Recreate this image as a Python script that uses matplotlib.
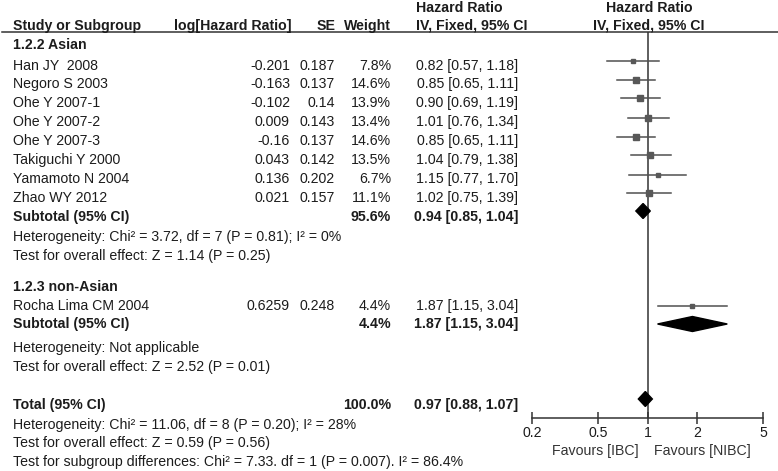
import matplotlib.pyplot as plt
from matplotlib.patches import Polygon
import numpy as np

plt.rcParams['font.family'] = ['Liberation Sans', 'DejaVu Sans']
plt.rcParams['font.size'] = 10.2

# --- data ---
studies = ['Han JY  2008', 'Negoro S 2003', 'Ohe Y 2007-1', 'Ohe Y 2007-2', 'Ohe Y 2007-3',
           'Takiguchi Y 2000', 'Yamamoto N 2004', 'Zhao WY 2012', 'Rocha Lima CM 2004']
log_hr = [-0.201, -0.163, -0.102, 0.009, -0.16, 0.043, 0.136, 0.021, 0.6259]
se = [0.187, 0.137, 0.14, 0.143, 0.137, 0.142, 0.202, 0.157, 0.248]
weight = [7.8, 14.6, 13.9, 13.4, 14.6, 13.5, 6.7, 11.1, 4.4]
hr = [0.82, 0.85, 0.90, 1.01, 0.85, 1.04, 1.15, 1.02, 1.87]
lo = [0.57, 0.65, 0.69, 0.76, 0.65, 0.79, 0.77, 0.75, 1.15]
hi = [1.18, 1.11, 1.19, 1.34, 1.11, 1.38, 1.70, 1.39, 3.04]

pooled_labels = ['Subtotal (95% CI)', 'Subtotal (95% CI)', 'Total (95% CI)']
pooled_weight = [95.6, 4.4, 100.0]
pooled_hr = [0.94, 1.87, 0.97]
pooled_lo = [0.85, 1.15, 0.88]
pooled_hi = [1.04, 3.04, 1.07]

group_titles = ['1.2.2 Asian', '1.2.3 non-Asian']
stats_lines = [
    ['Heterogeneity: Chi\u00b2 = 3.72, df = 7 (P = 0.81); I\u00b2 = 0%',
     'Test for overall effect: Z = 1.14 (P = 0.25)'],
    ['Heterogeneity: Not applicable',
     'Test for overall effect: Z = 2.52 (P = 0.01)'],
    ['Heterogeneity: Chi\u00b2 = 11.06, df = 8 (P = 0.20); I\u00b2 = 28%',
     'Test for overall effect: Z = 0.59 (P = 0.56)',
     'Test for subgroup differences: Chi\u00b2 = 7.33. df = 1 (P = 0.007). I\u00b2 = 86.4%'],
]
ticks = [0.2, 0.5, 1, 2, 5]
favours = ['Favours [IBC]', 'Favours [NIBC]']

# --- layout (pixel rows) ---
W, H = 778, 471
study_rows = [66, 84, 103, 122, 141, 160, 179, 198, 306]
study_mark = [61, 80, 98, 118, 137, 155, 175, 193, 306]
group_rows = [45, 287]
pooled_rows = [217, 324, 405]
pooled_mark = [211, 324, 399]
stats_rows = [[237, 256], [348, 367], [425, 443, 462]]
TXT = '#1c1c1c'
AXIS_Y = 418
LINE_Y = 32

fig = plt.figure(figsize=(W / 100, H / 100), dpi=100)
base = fig.add_axes([0, 0, 1, 1])
base.set_xlim(0, W)
base.set_ylim(H, 0)
base.axis('off')


def txt(x, y, s, ha='left', bold=False):
    base.text(x, y, s, ha=ha, va='center', color=TXT,
              fontweight='bold' if bold else 'normal')


# header
txt(13, 26, 'Study or Subgroup', bold=True)
txt(292, 26, 'log[Hazard Ratio]', ha='right', bold=True)
txt(336, 26, 'SE', ha='right', bold=True)
txt(391, 26, 'Weight', ha='right', bold=True)
txt(416, 8, 'Hazard Ratio', bold=True)
txt(416, 26, 'IV, Fixed, 95% CI', bold=True)
txt(649, 8, 'Hazard Ratio', ha='center', bold=True)
txt(649, 26, 'IV, Fixed, 95% CI', ha='center', bold=True)
base.plot([2, W], [LINE_Y, LINE_Y], color='#333333', lw=1.1)

for g, y in zip(group_titles, group_rows):
    txt(13, y, g, bold=True)

for i, name in enumerate(studies):
    y = study_rows[i]
    txt(13, y, name)
    txt(290, y, str(log_hr[i]), ha='right')
    txt(335, y, str(se[i]), ha='right')
    txt(391, y, f'{weight[i]:.1f}%', ha='right')
    txt(518, y, f'{hr[i]:.2f} [{lo[i]:.2f}, {hi[i]:.2f}]', ha='right')

for i, lab in enumerate(pooled_labels):
    y = pooled_rows[i]
    txt(13, y, lab, bold=True)
    txt(391, y, f'{pooled_weight[i]:.1f}%', ha='right', bold=True)
    txt(518, y, f'{pooled_hr[i]:.2f} [{pooled_lo[i]:.2f}, {pooled_hi[i]:.2f}]', ha='right', bold=True)

for lines, rows in zip(stats_lines, stats_rows):
    for s, y in zip(lines, rows):
        txt(13, y, s)

# forest panel, log scale, y in pixel rows
x0, x1 = 532, 763
ax = fig.add_axes([x0 / W, 1 - AXIS_Y / H, (x1 - x0) / W, (AXIS_Y - LINE_Y) / H])
ax.set_xscale('log')
ax.set_xlim(ticks[0], ticks[-1])
ax.set_ylim(AXIS_Y, LINE_Y)
ax.patch.set_alpha(0)
for s in ['top', 'left', 'right']:
    ax.spines[s].set_visible(False)
ax.spines['bottom'].set_color('#333333')
ax.spines['bottom'].set_linewidth(1.1)
ax.set_yticks([])
ax.set_xticks(ticks)
ax.set_xticklabels([str(t) for t in ticks])
ax.xaxis.set_minor_locator(plt.NullLocator())
ax.tick_params(axis='x', direction='inout', length=8, width=1.1, color='#333333',
               labelcolor=TXT, pad=2)
ax.axvline(1, color='#333333', lw=1.1, zorder=1)

for i in range(len(studies)):
    y = study_mark[i]
    ax.plot([lo[i], hi[i]], [y, y], color='#505050', lw=1.1, zorder=2)
    ax.plot(hr[i], y, marker='s', ms=np.sqrt(weight[i]) * 1.2, color='#585858',
            mec='#585858', zorder=3)

for i in range(len(pooled_hr)):
    y = pooled_mark[i]
    hh = 7.5
    ax.add_patch(Polygon([[pooled_lo[i], y], [pooled_hr[i], y - hh], [pooled_hi[i], y],
                          [pooled_hr[i], y + hh]], closed=True, color='black', zorder=4))

base.text(639, 451, favours[0], ha='right', va='center', color='#333333')
base.text(654, 451, favours[1], ha='left', va='center', color='#333333')

fig.savefig('out.png', dpi=100)
